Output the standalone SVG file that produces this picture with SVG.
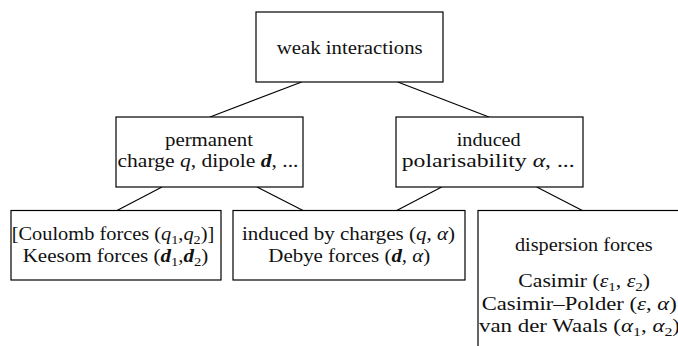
<svg xmlns="http://www.w3.org/2000/svg" width="678" height="346" viewBox="0 0 678 346">
<style>
rect{fill:#fff;stroke:#000;stroke-width:1.2}
line{stroke:#000;stroke-width:1.1}
text{font-family:"Liberation Serif","Times New Roman",serif;font-size:18px;fill:#111}
.m{font-style:italic}
.b{font-style:italic;font-weight:bold}
.s{font-size:12.5px}
</style>
<rect x="0" y="0" width="678" height="346" style="stroke:none"/>
<g id="connectors">
<line x1="301.7" y1="82" x2="210" y2="117"/>
<line x1="397.7" y1="82" x2="489" y2="117"/>
<line x1="162" y1="187" x2="117" y2="210.5"/>
<line x1="257" y1="187" x2="303" y2="210.5"/>
<line x1="441.7" y1="187" x2="396.7" y2="210.5"/>
<line x1="536.7" y1="187" x2="582.3" y2="210.5"/>
</g>
<g id="weak">
<rect x="256" y="12" width="187" height="70"/>
<text x="276.7" y="54" textLength="146" lengthAdjust="spacingAndGlyphs">weak interactions</text>
</g>
<g id="permanent">
<rect x="116" y="117" width="187" height="70"/>
<text x="165" y="146" textLength="88" lengthAdjust="spacingAndGlyphs">permanent</text>
<text x="117.5" y="167" textLength="181" lengthAdjust="spacingAndGlyphs">charge <tspan class="m">q</tspan>, dipole <tspan class="b">d</tspan>, ...</text>
</g>
<g id="induced">
<rect x="396" y="117" width="187" height="70"/>
<text x="456.7" y="146" textLength="64" lengthAdjust="spacingAndGlyphs">induced</text>
<text x="401.7" y="167" textLength="173" lengthAdjust="spacingAndGlyphs">polarisability <tspan class="m">α</tspan>, ...</text>
</g>
<g id="coulomb-keesom">
<rect x="11" y="210.5" width="210" height="69.5"/>
<text x="11.7" y="240" textLength="202.6" lengthAdjust="spacingAndGlyphs">[Coulomb forces (<tspan class="m">q</tspan><tspan class="s" dy="3.5">1</tspan><tspan dy="-3.5">,</tspan><tspan class="m">q</tspan><tspan class="s" dy="3.5">2</tspan><tspan dy="-3.5">)]</tspan></text>
<text x="22.7" y="262" textLength="185.6" lengthAdjust="spacingAndGlyphs">Keesom forces (<tspan class="b">d</tspan><tspan class="s" dy="3.5">1</tspan><tspan dy="-3.5">,</tspan><tspan class="b">d</tspan><tspan class="s" dy="3.5">2</tspan><tspan dy="-3.5">)</tspan></text>
</g>
<g id="debye">
<rect x="233" y="210.5" width="232" height="69.5"/>
<text x="242" y="240" textLength="213" lengthAdjust="spacingAndGlyphs">induced by charges (<tspan class="m">q</tspan>, <tspan class="m">α</tspan>)</text>
<text x="268.3" y="262" textLength="162" lengthAdjust="spacingAndGlyphs">Debye forces (<tspan class="b">d</tspan>, <tspan class="m">α</tspan>)</text>
</g>
<g id="dispersion">
<rect x="478" y="210.5" width="260" height="200"/>
<text x="515" y="251" textLength="137.7" lengthAdjust="spacingAndGlyphs">dispersion forces</text>
<text x="518.3" y="287" textLength="131.7" lengthAdjust="spacingAndGlyphs">Casimir (<tspan class="m">ε</tspan><tspan class="s" dy="3.5">1</tspan><tspan dy="-3.5">, </tspan><tspan class="m">ε</tspan><tspan class="s" dy="3.5">2</tspan><tspan dy="-3.5">)</tspan></text>
<text x="481.7" y="310" textLength="195" lengthAdjust="spacingAndGlyphs">Casimir–Polder (<tspan class="m">ε</tspan>, <tspan class="m">α</tspan>)</text>
<text x="479" y="332" textLength="201" lengthAdjust="spacingAndGlyphs">van der Waals (<tspan class="m">α</tspan><tspan class="s" dy="3.5">1</tspan><tspan dy="-3.5">, </tspan><tspan class="m">α</tspan><tspan class="s" dy="3.5">2</tspan><tspan dy="-3.5">)</tspan></text>
</g>
</svg>
